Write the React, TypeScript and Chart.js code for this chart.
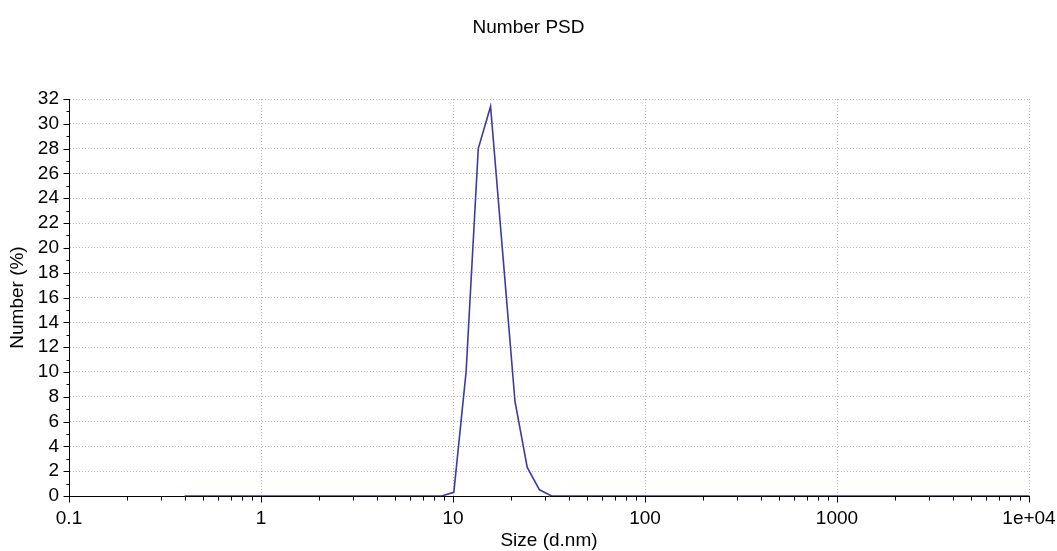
import React, { useEffect, useRef } from "react";
import { Chart, registerables } from "chart.js";

Chart.register(...registerables);

const sizes = [
  0.4, 0.4632, 0.5365, 0.6213, 0.7195, 0.8332, 0.9649, 1.117, 1.294, 1.499,
  1.736, 2.01, 2.328, 2.696, 3.122, 3.615, 4.187, 4.849, 5.615, 6.503,
  7.531, 8.721, 10.1, 11.7, 13.54, 15.69, 18.17, 21.04, 24.36, 28.21,
  32.67, 37.84, 43.82, 50.75, 58.77, 68.06, 78.82, 91.28, 105.7, 122.4,
  141.8, 164.2, 190.1, 220.2, 255.0, 295.3, 342.0, 396.1, 458.7, 531.2,
  615.1, 712.4, 825.0, 955.4, 1106, 1281, 1484, 1718, 1990, 2305,
  2669, 3091, 3580, 4145, 4801, 5560, 6439, 7456, 8635, 10000,
];

const numberPct = [
  0, 0, 0, 0, 0, 0, 0, 0, 0, 0,
  0, 0, 0, 0, 0, 0, 0, 0, 0, 0,
  0, 0, 0.3, 10.0, 28.0, 31.4, 19.5, 7.6, 2.3, 0.5,
  0, 0, 0, 0, 0, 0, 0, 0, 0, 0,
  0, 0, 0, 0, 0, 0, 0, 0, 0, 0,
  0, 0, 0, 0, 0, 0, 0, 0, 0, 0,
  0, 0, 0, 0, 0, 0, 0, 0, 0, 0,
];

const xMajorTicks = [0.1, 1, 10, 100, 1000, 10000];
const xTickLabels = ["0.1", "1", "10", "100", "1000", "1e+04"];
const xMinorMultipliers = [2, 3, 4, 5, 6, 7, 8, 9];
const yMin = 0;
const yMax = 32;
const yMajorStep = 2;
const yMinorStep = 1;

const FONT = "'Liberation Sans', Arial, sans-serif";

const minorTicksPlugin = {
  id: "minorTicks",
  afterDraw(chart: any) {
    const { ctx, chartArea, scales } = chart;
    const xs = scales.x;
    const ys = scales.y;
    ctx.save();
    ctx.strokeStyle = "#000";
    ctx.lineWidth = 1;
    ctx.beginPath();
    const yb = Math.round(chartArea.bottom) + 0.5;
    for (let i = 0; i < xMajorTicks.length; i++) {
      const px = Math.round(xs.getPixelForValue(xMajorTicks[i])) + 0.5;
      ctx.moveTo(px, yb);
      ctx.lineTo(px, yb + 6);
      if (i < xMajorTicks.length - 1) {
        for (const m of xMinorMultipliers) {
          const mx = Math.round(xs.getPixelForValue(xMajorTicks[i] * m)) + 0.5;
          ctx.moveTo(mx, yb);
          ctx.lineTo(mx, yb + 4);
        }
      }
    }
    const xl = Math.round(chartArea.left) + 0.5;
    for (let v = yMin; v <= yMax; v += yMinorStep) {
      const py = Math.round(ys.getPixelForValue(v)) + 0.5;
      const len = v % yMajorStep === 0 ? 6 : 3;
      ctx.moveTo(xl, py);
      ctx.lineTo(xl - len, py);
    }
    ctx.stroke();
    ctx.restore();
  },
};

export default function App() {
  const ref = useRef<HTMLCanvasElement | null>(null);

  useEffect(() => {
    if (!ref.current) return;
    const chart = new Chart(ref.current, {
      type: "line",
      data: {
        datasets: [
          {
            label: "Number",
            data: sizes.map((s, i) => ({ x: s, y: numberPct[i] })),
            borderColor: "#3b3ba6",
            borderWidth: 1.6,
            pointRadius: 0,
            tension: 0,
            fill: false,
          },
        ],
      },
      options: {
        animation: false,
        responsive: false,
        layout: { padding: 0 },
        plugins: {
          legend: { display: false },
          tooltip: { enabled: false },
          title: {
            display: true,
            text: "Number PSD",
            color: "#000",
            font: { family: FONT, size: 19, weight: "normal", lineHeight: 1.2 },
            padding: { top: 16.7, bottom: 59.5 },
          },
        },
        scales: {
          x: {
            type: "logarithmic",
            min: 0.1,
            max: 10000,
            afterBuildTicks: (scale: any) => {
              scale.ticks = xMajorTicks.map((v) => ({ value: v }));
            },
            afterFit: (scale: any) => {
              scale.height = 55;
              scale.paddingLeft = 0;
              scale.paddingRight = 28;
            },
            ticks: {
              autoSkip: false,
              maxRotation: 0,
              padding: 11,
              color: "#000",
              font: { family: FONT, size: 19 },
              callback: (_v: any, i: number) => xTickLabels[i],
            },
            grid: {
              display: true,
              drawTicks: false,
              color: "#b8b8b8",
              lineWidth: 1,
            },
            border: { display: true, color: "#000", width: 1, dash: [1, 2] },
            title: {
              display: true,
              text: "Size (d.nm)",
              color: "#000",
              font: { family: FONT, size: 19, lineHeight: 1 },
              padding: { top: 0, bottom: 1 },
            },
          },
          y: {
            min: yMin,
            max: yMax,
            afterFit: (scale: any) => {
              scale.width = 69;
            },
            ticks: {
              stepSize: yMajorStep,
              autoSkip: false,
              padding: 10,
              color: "#000",
              font: { family: FONT, size: 19 },
              callback: (v: any) => String(v),
            },
            grid: {
              display: true,
              drawTicks: false,
              color: "#b8b8b8",
              lineWidth: 1,
            },
            border: { display: true, color: "#000", width: 1, dash: [1, 2] },
            title: {
              display: true,
              text: "Number (%)",
              color: "#000",
              font: { family: FONT, size: 19, lineHeight: 1.2 },
              padding: { top: 6.5, bottom: 0 },
            },
          },
        },
      },
      plugins: [minorTicksPlugin],
    } as any);
    return () => chart.destroy();
  }, []);

  return (
    <div style={{ position: "absolute", left: 0, top: 0, width: 1057, height: 551, background: "#fff" }}>
      <canvas ref={ref} width={1057} height={551} style={{ display: "block" }} />
    </div>
  );
}
